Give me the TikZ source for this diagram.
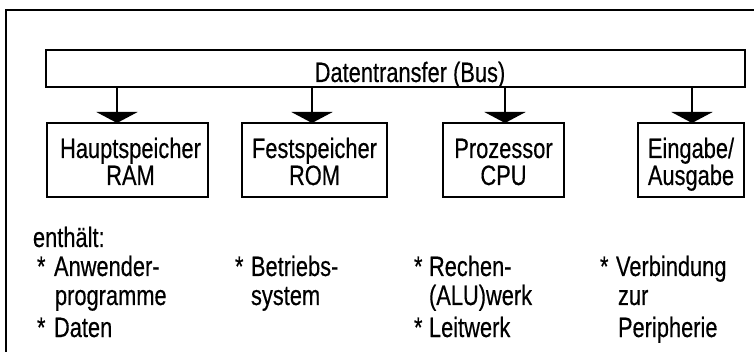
\documentclass[tikz,border=0pt]{standalone}
\usepackage{fontspec}
\setmainfont[FakeStretch=0.78,FakeBold=0.4]{Liberation Sans}
\usetikzlibrary{arrows.meta}

\begin{document}
\begin{tikzpicture}[x=1pt,y=-1pt,
  frame/.style={line width=2pt},
  unit/.style={draw, line width=2.3pt, inner sep=0pt, outer sep=0pt, anchor=north west},
  busarrow/.style={line width=2.5pt, -{Triangle[width=41pt,length=11pt]}},
  lbl/.style={inner sep=0pt, outer sep=0pt, font=\fontsize{28}{28}\selectfont},
  item/.style={lbl, anchor=base west}
]
\useasboundingbox (0,0) rectangle (754,352);

% open frame: only left and top edges are visible
\coordinate (fbl) at (6,352);
\coordinate (ftl) at (6,10);
\coordinate (ftr) at (754,10);
\draw[frame] (fbl) -- (ftl) -- (ftr);

% bus
\node[unit, minimum width=699pt, minimum height=37pt] (bus) at (46,50) {};
\node[lbl, anchor=base] (busT) at (410,82) {Datentransfer (Bus)};

% units
\node[unit, minimum width=161pt, minimum height=74pt] (ram) at (47,123) {};
\node[unit, minimum width=145pt, minimum height=74pt] (rom) at (242,123) {};
\node[unit, minimum width=121pt, minimum height=74pt] (cpu) at (443,123) {};
\node[unit, minimum width=106pt, minimum height=74pt] (io)  at (638,123) {};

\node[lbl, anchor=base] (ramA) at ([xshift=3pt,yshift=-35pt]ram.north) {Hauptspeicher};
\node[lbl, anchor=base] (ramB) at ([xshift=3pt,yshift=-62pt]ram.north) {RAM};
\node[lbl, anchor=base] (romA) at ([yshift=-35pt]rom.north) {Festspeicher};
\node[lbl, anchor=base] (romB) at ([yshift=-62pt]rom.north) {ROM};
\node[lbl, anchor=base] (cpuA) at ([yshift=-35pt]cpu.north) {Prozessor};
\node[lbl, anchor=base] (cpuB) at ([yshift=-62pt]cpu.north) {CPU};
\node[lbl, anchor=base] (ioA)  at ([yshift=-35pt]io.north) {Eingabe/};
\node[lbl, anchor=base] (ioB)  at ([yshift=-62pt]io.north) {Ausgabe};

% bus connections
\coordinate (a1) at (117,0);
\coordinate (a2) at (312,0);
\coordinate (a3) at (505,0);
\coordinate (a4) at (692,0);
\draw[busarrow] (bus.south -| a1) -- (ram.north -| a1);
\draw[busarrow] (bus.south -| a2) -- (rom.north -| a2);
\draw[busarrow] (bus.south -| a3) -- (cpu.north -| a3);
\draw[busarrow] (bus.south -| a4) -- (io.north -| a4);

% contents
\node[item] (enth) at (33,247) {enthält:};

\node[item] (s1a) at (37,276) {*};
\node[item] (t1a) at (54,276) {Anwender-};
\node[item] (t1b) at (55,305) {programme};
\node[item] (s1c) at (37,337) {*};
\node[item] (t1c) at (54,337) {Daten};

\node[item] (s2a) at (235,276) {*};
\node[item] (t2a) at (251,276) {Betriebs-};
\node[item] (t2b) at (251,305) {system};

\node[item] (s3a) at (414,276) {*};
\node[item] (t3a) at (429,276) {Rechen-};
\node[item] (t3b) at (429,305) {(ALU)werk};
\node[item] (s3c) at (414,337) {*};
\node[item] (t3c) at (429,337) {Leitwerk};

\node[item] (s4a) at (600,276) {*};
\node[item] (t4a) at (616,276) {Verbindung};
\node[item] (t4b) at (618,305) {zur};
\node[item] (t4c) at (618,337) {Peripherie};
\end{tikzpicture}
\end{document}
